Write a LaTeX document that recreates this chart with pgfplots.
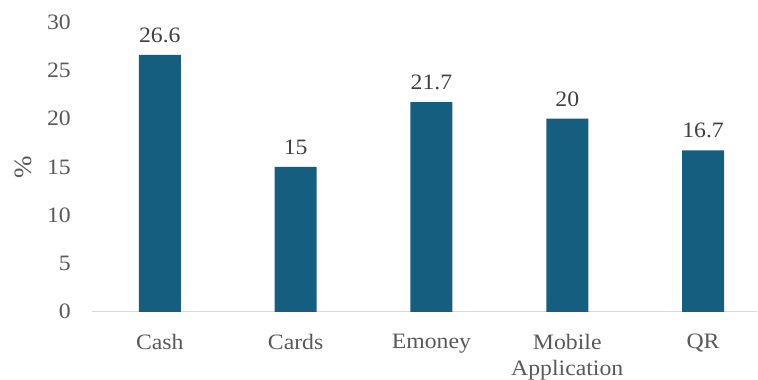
\documentclass[border=0pt]{standalone}
\usepackage{fontspec}
\setmainfont{Liberation Serif}[FakeStretch=1.08]
\usepackage{pgfplots}
\pgfplotsset{compat=1.18}
\definecolor{barc}{HTML}{165E80}
\definecolor{tickc}{HTML}{595959}
\definecolor{valc}{HTML}{404040}
\definecolor{axc}{HTML}{D9D9D9}
\begin{document}
\fontsize{22}{26}\selectfont
\begin{tikzpicture}[x=1pt,y=1pt]
\path (0,0) rectangle (758,380);
\begin{axis}[
  at={(92pt,68pt)}, anchor=south west,
  scale only axis, width=666pt, height=290pt,
  xmin=-0.5, xmax=4.4, ymin=0, ymax=30,
  ytick={0,5,10,15,20,25,30},
  xtick={0,1,2,3,4},
  xticklabels={Cash,Cards,Emoney,Mobile\\Application,QR},
  xticklabel style={align=center, text=tickc, inner sep=0pt, yshift=-22pt, anchor=north},
  yticklabel style={text=tickc, inner sep=0pt, xshift=-21pt, anchor=east},
  major tick length=0pt,
  /pgf/number format/assume math mode=true,
  axis x line*=bottom, axis y line*=left,
  x axis line style={draw=axc, line width=1.2pt, -},
  y axis line style={draw=none},
  ybar, bar width=42pt,
  nodes near coords,
  nodes near coords style={text=valc, inner sep=0pt, anchor=south, yshift=12pt},
  point meta=explicit symbolic,
  clip=false,
]
\addplot[fill=barc, draw=none] coordinates {(0,26.6) [26.6] (1,15) [15] (2,21.7) [21.7] (3,20) [20] (4,16.7) [16.7]};
\node[xshift=-69pt, rotate=90, text=tickc, inner sep=0pt, font=\fontsize{25}{28}\selectfont] at (axis description cs:0,0.5) {\%};
\end{axis}
\end{tikzpicture}
\end{document}
